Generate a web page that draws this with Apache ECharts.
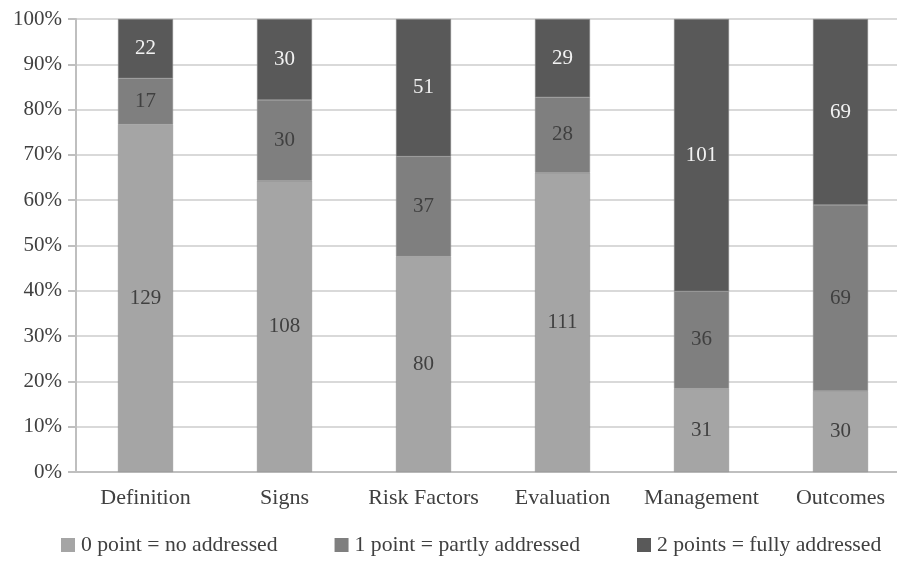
<!DOCTYPE html>
<html>
<head>
<meta charset="utf-8">
<script src="https://cdn.jsdelivr.net/npm/echarts@6/dist/echarts.min.js"></script>
<style>
  html, body { margin: 0; padding: 0; background: #fff; }
  #chart { width: 897px; height: 561px; }
</style>
</head>
<body>
<div id="chart"></div>
<script>
const categories = ['Definition', 'Signs', 'Risk Factors', 'Evaluation', 'Management', 'Outcomes']
const noAddressed = [129, 108, 80, 111, 31, 30]
const partlyAddressed = [17, 30, 37, 28, 36, 69]
const fullyAddressed = [22, 30, 51, 29, 101, 69]
const seriesNames = ['0 point = no addressed', '1 point = partly addressed', '2 points = fully addressed']

const totals = categories.map((c, i) => noAddressed[i] + partlyAddressed[i] + fullyAddressed[i])
const font = 'Liberation Serif'

function toPercent (arr) {
  return arr.map((v, i) => ({ value: v / totals[i] * 100, raw: v }))
}

function makeSeries (name, arr, color, labelColor) {
  return {
    name: name,
    type: 'bar',
    stack: 'total',
    barWidth: 55,
    data: toPercent(arr),
    itemStyle: { color: color, borderColor: '#8a8a8a', borderWidth: 0.5 },
    label: {
      show: true,
      position: 'inside',
      color: labelColor,
      fontFamily: font,
      fontSize: 21,
      formatter: p => p.data.raw
    }
  }
}

const myChart = echarts.init(document.getElementById('chart'))
const option = {
  backgroundColor: '#fff',
  animation: false,
  grid: { left: 76, top: 19, bottom: 89, width: 834, outerBoundsMode: 'none', containLabel: false },
  legend: {
    top: 534,
    left: 61,
    padding: 0,
    itemWidth: 14,
    itemHeight: 14,
    itemGap: 57,
    icon: 'rect',
    itemStyle: { borderWidth: 0 },
    textStyle: { fontFamily: font, fontSize: 21.7, color: '#404040', padding: [0, 0, 0, 1] },
    data: seriesNames
  },
  xAxis: {
    type: 'category',
    data: categories,
    axisTick: { show: false },
    axisLine: { lineStyle: { color: '#bfbfbf', width: 2 } },
    axisLabel: { interval: 0, fontFamily: font, fontSize: 22, color: '#404040', margin: 15 }
  },
  yAxis: {
    type: 'value',
    min: 0,
    max: 100,
    interval: 10,
    axisLine: { show: true, lineStyle: { color: '#bfbfbf', width: 2 } },
    axisTick: { show: true, length: 8, lineStyle: { color: '#bfbfbf', width: 2 } },
    axisLabel: { formatter: '{value}%', fontFamily: font, fontSize: 21, color: '#404040', margin: 14 },
    splitLine: { lineStyle: { color: '#d9d9d9', width: 2 } }
  },
  series: [
    makeSeries(seriesNames[0], noAddressed, '#a5a5a5', '#404040'),
    makeSeries(seriesNames[1], partlyAddressed, '#7f7f7f', '#404040'),
    makeSeries(seriesNames[2], fullyAddressed, '#595959', '#f2f2f2')
  ]
}
myChart.setOption(option)
window.addEventListener('resize', function () {
  myChart.resize()
})
</script>
</body>
</html>
